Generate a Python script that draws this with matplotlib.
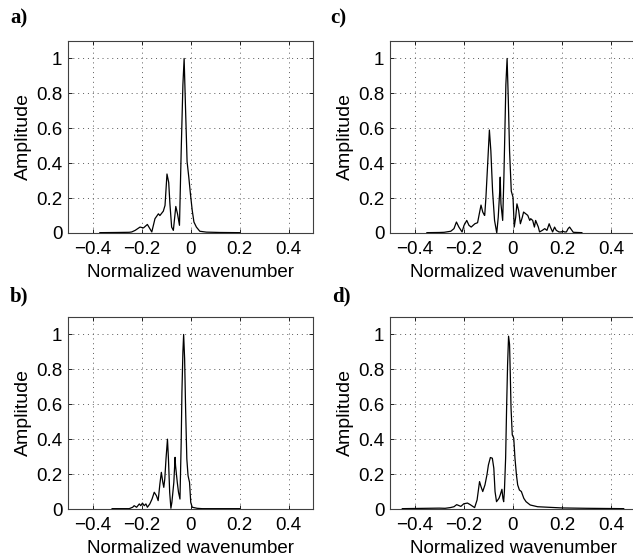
import matplotlib
matplotlib.use("Agg")
import matplotlib.pyplot as plt

# ---- data ----
xa = [-0.37, -0.30, -0.25, -0.240, -0.226, -0.206, -0.192, -0.176, -0.158, -0.145, -0.131, -0.125,
      -0.111, -0.104, -0.096, -0.089, -0.084, -0.077, -0.070, -0.060, -0.053, -0.045, -0.038,
      -0.031, -0.026, -0.020, -0.014, -0.007, 0.000, 0.007, 0.014, 0.024, 0.038, 0.065, 0.12, 0.20]
ya = [0.002, 0.003, 0.004, 0.006, 0.015, 0.034, 0.029, 0.049, 0.006, 0.082, 0.110, 0.100,
      0.125, 0.158, 0.338, 0.290, 0.167, 0.034, 0.015, 0.152, 0.110, 0.044, 0.470,
      0.850, 1.000, 0.700, 0.410, 0.320, 0.220, 0.130, 0.063, 0.034, 0.010, 0.005, 0.003, 0.002]

xc = [-0.35, -0.30, -0.280, -0.253, -0.240, -0.230, -0.220, -0.207, -0.199, -0.188, -0.179,
      -0.170, -0.155, -0.144, -0.137, -0.130, -0.123, -0.116, -0.115, -0.110, -0.103, -0.096,
      -0.090, -0.083, -0.075, -0.066, -0.060, -0.054, -0.052, -0.049, -0.042, -0.037, -0.033,
      -0.029, -0.024, -0.019, -0.014, -0.007, 0.000, 0.005, 0.011, 0.016, 0.023, 0.030, 0.038,
      0.043, 0.060, 0.068, 0.072, 0.080, 0.087, 0.092, 0.092, 0.103, 0.108, 0.119, 0.129,
      0.138, 0.147, 0.152, 0.161, 0.169, 0.176, 0.187, 0.196, 0.203, 0.210, 0.217, 0.224,
      0.230, 0.245, 0.28]
yc = [0.002, 0.003, 0.004, 0.010, 0.025, 0.063, 0.034, 0.006, 0.044, 0.072, 0.044, 0.034,
      0.053, 0.059, 0.110, 0.160, 0.120, 0.101, 0.101, 0.205, 0.395, 0.590, 0.470, 0.240,
      0.072, 0.000, 0.091, 0.240, 0.320, 0.167, 0.072, 0.320, 0.585, 0.850, 1.000, 0.760,
      0.470, 0.240, 0.205, 0.034, 0.091, 0.167, 0.129, 0.053, 0.091, 0.120, 0.101, 0.072,
      0.082, 0.072, 0.034, 0.072, 0.072, 0.034, 0.006, 0.015, 0.025, 0.015, 0.053, 0.034,
      0.006, 0.034, 0.015, 0.006, 0.006, 0.010, 0.006, 0.006, 0.025, 0.034, 0.004, 0.002]

xb = [-0.32, -0.25, -0.236, -0.230, -0.220, -0.209, -0.203, -0.196, -0.189, -0.182, -0.176,
      -0.166, -0.157, -0.148, -0.139, -0.132, -0.125, -0.119, -0.113, -0.109, -0.105, -0.100,
      -0.094, -0.090, -0.085, -0.080, -0.076, -0.068, -0.063, -0.061, -0.054, -0.049, -0.043,
      -0.038, -0.035, -0.031, -0.028, -0.024, -0.020, -0.015, -0.010, -0.004, 0.001, 0.007,
      0.014, 0.027, 0.047, 0.10, 0.20]
yb = [0.002, 0.002, 0.010, 0.019, 0.010, 0.029, 0.019, 0.034, 0.019, 0.029, 0.010,
      0.029, 0.057, 0.096, 0.076, 0.048, 0.143, 0.210, 0.153, 0.124, 0.172, 0.287,
      0.400, 0.287, 0.096, 0.004, 0.038, 0.153, 0.296, 0.248, 0.153, 0.096, 0.057,
      0.382, 0.669, 0.900, 1.000, 0.860, 0.574, 0.287, 0.191, 0.153, 0.038, 0.010,
      0.008, 0.004, 0.002, 0.002, 0.002]

xd = [-0.45, -0.40, -0.35, -0.30, -0.276, -0.255, -0.240, -0.229, -0.212, -0.200, -0.185,
      -0.174, -0.156, -0.146, -0.136, -0.130, -0.123, -0.114, -0.106, -0.100, -0.092, -0.084,
      -0.078, -0.073, -0.067, -0.057, -0.052, -0.045, -0.041, -0.038, -0.035, -0.030, -0.026,
      -0.022, -0.018, -0.014, -0.011, -0.008, -0.003, 0.003, 0.008, 0.014, 0.019, 0.026,
      0.034, 0.044, 0.053, 0.070, 0.10, 0.20, 0.30, 0.45]
yd = [0.002, 0.003, 0.004, 0.005, 0.004, 0.008, 0.013, 0.025, 0.015, 0.030, 0.034,
      0.025, 0.008, 0.052, 0.157, 0.128, 0.100, 0.138, 0.195, 0.252, 0.295, 0.291,
      0.234, 0.100, 0.042, 0.061, 0.080, 0.113, 0.061, 0.042, 0.100, 0.291, 0.579,
      0.828, 0.990, 0.943, 0.770, 0.579, 0.425, 0.406, 0.291, 0.195, 0.138, 0.109,
      0.100, 0.061, 0.042, 0.023, 0.013, 0.006, 0.004, 0.002]

xticks = [-0.4, -0.2, 0, 0.2, 0.4]
xticklabels = ["\u22120.4", "\u22120.2", "0", "0.2", "0.4"]
yticks = [0, 0.2, 0.4, 0.6, 0.8, 1]
yticklabels = ["0", "0.2", "0.4", "0.6", "0.8", "1"]
panel_labels = ["a)", "c)", "b)", "d)"]

W, H = 633, 557
fig = plt.figure(figsize=(W / 100, H / 100), dpi=100)
plt.rcParams['font.family'] = ['Liberation Sans', 'DejaVu Sans']

# axes boxes in pixels: left, top, right, bottom
boxes = [(68, 41, 313, 233), (390, 41, 636, 233), (68, 317, 313, 509), (390, 317, 636, 509)]
data = [(xa, ya), (xc, yc), (xb, yb), (xd, yd)]
label_pos = [(10, 18), (330, 18), (10, 296), (332, 296)]

for (l, t, r, b), (x, y), lab, (lx, ly) in zip(boxes, data, panel_labels, label_pos):
    ax = fig.add_axes([l / W, 1 - b / H, (r - l) / W, (b - t) / H])
    ax.plot(x, y, color='black', lw=0.9)
    ax.set_xlim(-0.5, 0.5)
    ax.set_ylim(0, 1.1)
    ax.set_xticks(xticks)
    ax.set_xticklabels(xticklabels)
    ax.set_yticks(yticks)
    ax.set_yticklabels(yticklabels)
    ax.grid(True, color='0.35', linestyle=(0, (1, 4)), lw=0.7)
    ax.tick_params(direction='in', top=True, right=True, length=3, width=0.6,
                   labelsize=13.5, colors='black')
    ax.tick_params(axis='x', pad=6)
    ax.tick_params(axis='y', pad=4)
    for s in ax.spines.values():
        s.set_linewidth(0.8)
        s.set_color('0.25')
    ax.set_xlabel("Normalized wavenumber", fontsize=13.5, labelpad=4)
    ax.set_ylabel("Amplitude", fontsize=14, labelpad=3)
    fig.text(lx / W, 1 - ly / H, lab, fontsize=15, fontweight='bold',
             family=['Liberation Serif', 'DejaVu Serif'], va='center', ha='left')

fig.savefig("out.png", dpi=100)
